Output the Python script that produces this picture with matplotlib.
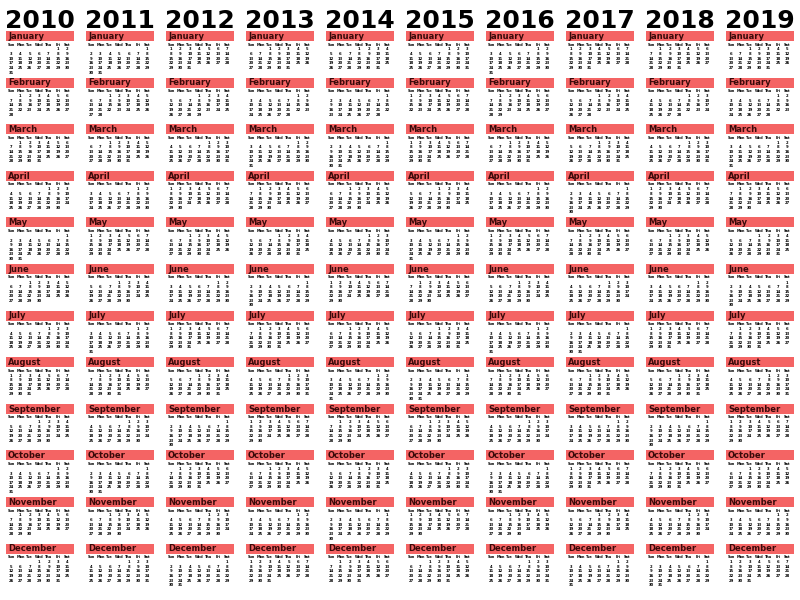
import calendar
import matplotlib
matplotlib.use("Agg")
import matplotlib.pyplot as plt
from matplotlib.patches import Rectangle

years = list(range(2010, 2020))
month_names = ["January", "February", "March", "April", "May", "June", "July",
               "August", "September", "October", "November", "December"]
day_names = ["Sun", "Mon", "Tue", "Wed", "Thu", "Fri", "Sat"]

BAR_COLOR = "#f46464"
COL_W = 80.0
MONTH_H = 46.6
TOP = 31.0

fig = plt.figure(figsize=(8, 6), dpi=100)
ax = fig.add_axes([0, 0, 1, 1])
ax.set_xlim(0, 800)
ax.set_ylim(600, 0)
ax.axis("off")

cal = calendar.Calendar(firstweekday=6)

for c, year in enumerate(years):
    x0 = c * COL_W
    ax.text(x0 + 40, 28, str(year), ha="center", va="baseline",
            fontsize=18, fontweight="bold", color="black")
    for m, name in enumerate(month_names):
        y0 = TOP + m * MONTH_H
        ax.add_patch(Rectangle((x0 + 6, y0), 68, 10, color=BAR_COLOR, lw=0))
        ax.text(x0 + 8, y0 + 5.3, name, ha="left", va="center",
                fontsize=6, fontweight="bold", color="#3a0a0a")
        for d, dn in enumerate(day_names):
            ax.text(x0 + 11 + d * 9.4, y0 + 13.5, dn, ha="center", va="center",
                    fontsize=2.5, fontweight="bold")
        weeks = cal.monthdayscalendar(year, m + 1)
        for r, week in enumerate(weeks):
            for d, day in enumerate(week):
                if day:
                    ax.text(x0 + 11 + d * 9.4, y0 + 18.5 + r * 4.6, str(day),
                            ha="center", va="center", fontsize=2.7,
                            fontweight="bold")

fig.savefig("out.png", dpi=100)
